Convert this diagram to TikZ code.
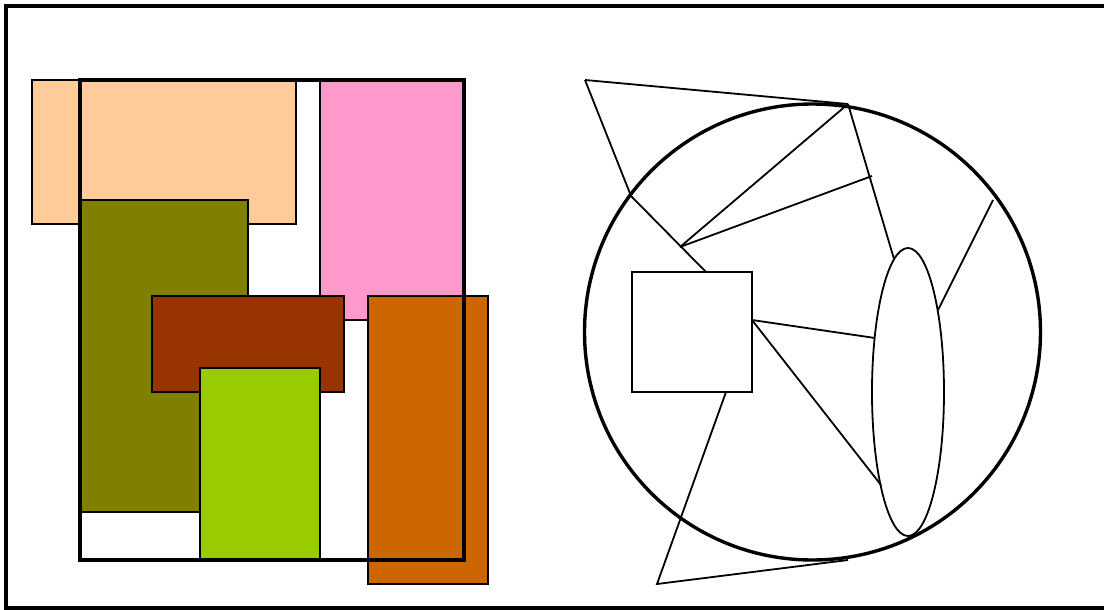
\documentclass[tikz,border=0pt]{standalone}
\usetikzlibrary{shapes.geometric}
\definecolor{peach}{HTML}{FFCC99}
\definecolor{pinkc}{HTML}{FF99CC}
\definecolor{olivec}{HTML}{808000}
\definecolor{brownc}{HTML}{993300}
\definecolor{limec}{HTML}{99CC00}
\definecolor{orangec}{HTML}{CC6600}
\begin{document}
\begin{tikzpicture}[x=1pt,y=-1pt,
  box/.style={draw,line width=1.7pt,inner sep=0pt,outer sep=0pt,anchor=north west},
  thinln/.style={line width=1.8pt},
  thickln/.style={line width=3.4pt}]
\useasboundingbox (0,0) rectangle (1104,610);
\draw[thickln] (1112,6) -- (6,6) -- (6,608) -- (1112,608);
% left panel
\node[box,fill=peach,minimum width=264pt,minimum height=144pt] (peachbox) at (32,80) {};
\node[box,fill=pinkc,minimum width=144pt,minimum height=240pt] (pinkbox) at (320,80) {};
\node[box,fill=olivec,minimum width=168pt,minimum height=312pt] (olivebox) at (80,200) {};
\node[box,fill=brownc,minimum width=192pt,minimum height=96pt] (brownbox) at (152,296) {};
\node[box,fill=limec,minimum width=120pt,minimum height=192pt] (limebox) at (200,368) {};
\node[box,fill=orangec,minimum width=120pt,minimum height=288pt] (orangebox) at (368,296) {};
\node[box,line width=3.6pt,minimum width=384pt,minimum height=480pt] (frame) at (80,80) {};
% right panel
\node[draw,circle,line width=3.4pt,minimum size=456pt,inner sep=0pt] (circ) at (812.5,332) {};
\node[box,minimum size=120pt] (sq) at (632,272) {};
\node[draw,ellipse,thinln,minimum width=72pt,minimum height=288pt,inner sep=0pt] (ell) at (908,392) {};
\coordinate (A) at (585,80);
\coordinate (B) at (848,104);
\coordinate (C) at (631,196);
\coordinate (D) at (680,247);
\coordinate (E) at (872,176);
\coordinate (F) at (993,200);
\coordinate (G) at (657,584);
\coordinate (H) at (848,560);
\coordinate (sqT) at (706,272);
\coordinate (sqR) at (752,320);
\coordinate (sqB) at (726,392);
\coordinate (eTop) at (894,259);
\coordinate (eR) at (938,310);
\coordinate (eL1) at (875,338);
\coordinate (eL2) at (881,485);
\draw[thinln] (A) -- (B);
\draw[thinln] (A) -- (C) -- (sqT);
\draw[thinln] (D) -- (B);
\draw[thinln] (D) -- (E);
\draw[thinln] (B) -- (eTop);
\draw[thinln] (F) -- (eR);
\draw[thinln] (sqR) -- (eL1);
\draw[thinln] (sqR) -- (eL2);
\draw[thinln] (sqB) -- (G) -- (H);
\end{tikzpicture}
\end{document}
